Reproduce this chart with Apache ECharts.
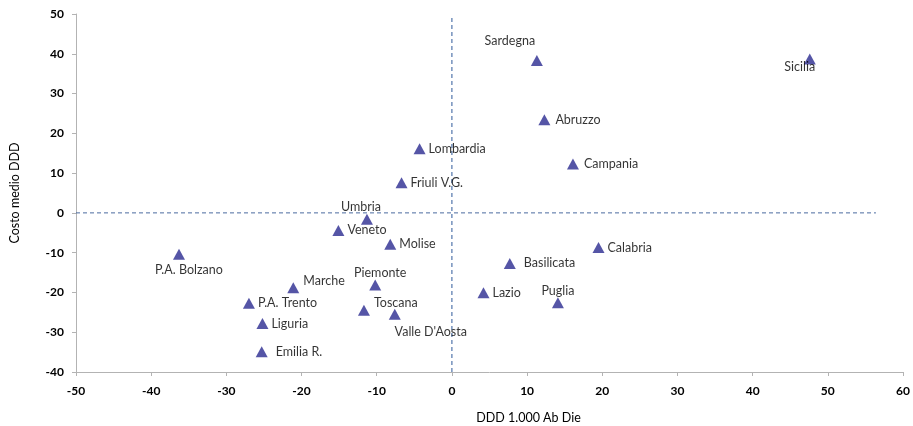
<!DOCTYPE html>
<html>
<head>
<meta charset="utf-8">
<script src="https://cdn.jsdelivr.net/npm/echarts@6/dist/echarts.min.js"></script>
<style>
  html, body { margin: 0; padding: 0; background: #fff; }
  #chart { width: 913px; height: 426px; }
</style>
</head>
<body>
<div id="chart"></div>
<script>
// regioni e valori
const regions = ['Sicilia', 'Sardegna', 'Abruzzo', 'Lombardia', 'Campania', 'Friuli V.G.',
  'Umbria', 'Veneto', 'Molise', 'P.A. Bolzano', 'Calabria', 'Basilicata', 'Marche',
  'Piemonte', 'Lazio', 'P.A. Trento', 'Puglia', 'Toscana', 'Valle D\'Aosta', 'Liguria', 'Emilia R.']
const dddValues = [47.6, 11.3, 12.3, -4.3, 16.1, -6.7,
  -11.3, -15.1, -8.2, -36.3, 19.5, 7.7, -21.1,
  -10.2, 4.2, -27.0, 14.1, -11.7, -7.6, -25.2, -25.3]
const costValues = [38.7, 38.3, 23.4, 16.1, 12.3, 7.6,
  -1.6, -4.4, -7.9, -10.4, -8.7, -12.7, -18.8,
  -18.1, -20.1, -22.7, -22.6, -24.5, -25.5, -27.8, -34.9]

// linee di riferimento
const hLine = [[-50, 0], [56.4, 0]]
const vLine = [[0, -40], [0, 49.5]]

// posizione etichette
const labelPos = {
  'Sicilia': { position: 'bottom', distance: -4, offset: [-10, 0] },
  'Sardegna': { position: 'top', distance: 8, offset: [-27, 0] },
  'Umbria': { position: 'top', distance: 0, offset: [-6, 0] },
  'P.A. Bolzano': { position: 'bottom', distance: 4, offset: [10, 0] },
  'Piemonte': { position: 'top', distance: 0, offset: [5, 0] },
  'Puglia': { position: 'top', distance: 0, offset: [0, 0] },
  'Marche': { position: 'right', distance: 4, offset: [0, -7] },
  'Toscana': { position: 'right', distance: 4, offset: [0, -7] },
  'Valle D\'Aosta': { position: 'bottom', distance: 6, offset: [36, 0] },
  'Emilia R.': { position: 'right', distance: 8, offset: [0, 0] },
  'Basilicata': { position: 'right', distance: 8, offset: [0, 0] },
  'Abruzzo': { position: 'right', distance: 5, offset: [0, 0] },
  'Campania': { position: 'right', distance: 5, offset: [0, 0] }
}

const points = regions.map((name, i) => {
  const lp = labelPos[name] || { position: 'right', distance: 3, offset: [0, 0] }
  return {
    name,
    value: [dddValues[i], costValues[i]],
    label: { position: lp.position, distance: lp.distance, offset: lp.offset }
  }
})

const fontFamily = 'Lato, "Open Sans", sans-serif'

const axisCommon = {
  axisLine: { show: true, onZero: false, lineStyle: { color: '#b3b3b3', width: 1 } },
  axisTick: { show: true, inside: false, length: 4, lineStyle: { color: '#b3b3b3' } },
  splitLine: { show: false },
  axisLabel: { color: '#000', fontSize: 12, fontWeight: 'bold', fontFamily }
}

const chart = echarts.init(document.getElementById('chart'))
chart.setOption({
  animation: false,
  backgroundColor: '#fff',
  grid: { left: 76, right: 10, top: 14, bottom: 54, containLabel: false, outerBoundsMode: 'none' },
  xAxis: Object.assign({}, axisCommon, {
    type: 'value',
    min: -50,
    max: 60,
    interval: 10,
    name: 'DDD 1.000 Ab Die',
    nameLocation: 'middle',
    nameGap: 39,
    nameTextStyle: { color: '#000', fontSize: 12.5, fontFamily, padding: [0, 0, 0, 78] },
    axisLabel: Object.assign({}, axisCommon.axisLabel, { margin: 13 })
  }),
  yAxis: Object.assign({}, axisCommon, {
    type: 'value',
    min: -40,
    max: 50,
    interval: 10,
    name: 'Costo medio DDD',
    nameLocation: 'middle',
    nameGap: 55,
    nameTextStyle: { color: '#000', fontSize: 12.5, fontFamily },
    axisLabel: Object.assign({}, axisCommon.axisLabel, { margin: 12 })
  }),
  series: [
    {
      type: 'line',
      data: hLine,
      symbol: 'none',
      silent: true,
      lineStyle: { color: '#4a6a9f', width: 1, type: [4, 3] },
      z: 1
    },
    {
      type: 'line',
      data: vLine,
      symbol: 'none',
      silent: true,
      lineStyle: { color: '#2f5a9a', width: 1, type: [4, 3] },
      z: 1
    },
    {
      type: 'scatter',
      data: points,
      symbol: 'triangle',
      symbolSize: [12, 11],
      itemStyle: { color: '#2b2b90' },
      label: {
        show: true,
        formatter: '{b}',
        color: '#000',
        fontSize: 12.5,
        fontFamily
      },
      z: 3
    }
  ]
})
</script>
</body>
</html>
